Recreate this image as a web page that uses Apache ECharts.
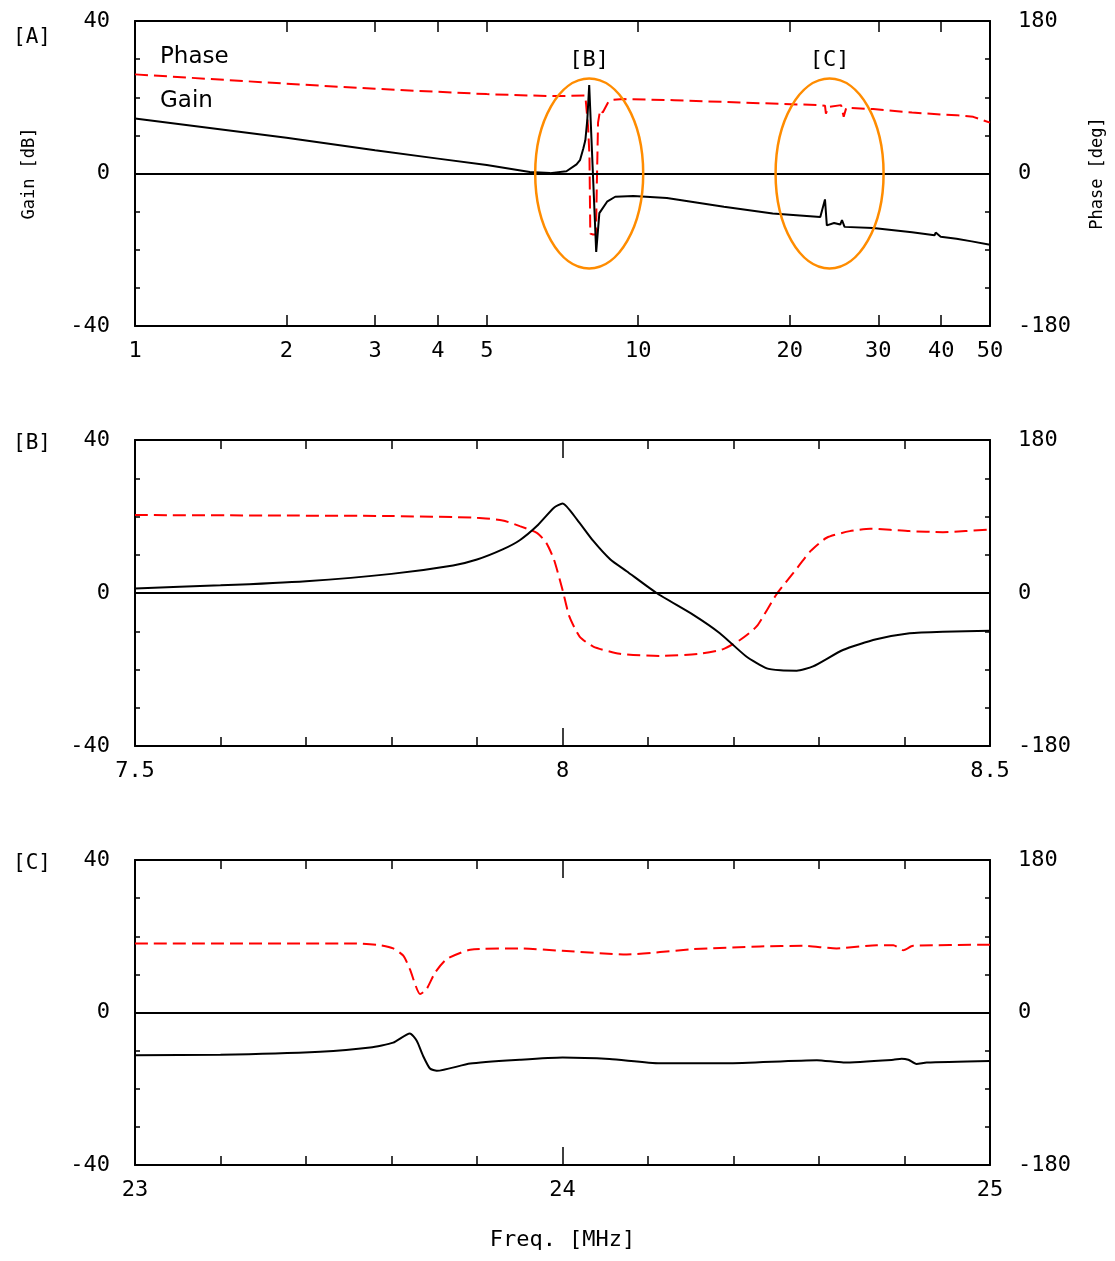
<!DOCTYPE html>
<html>
<head>
<meta charset="utf-8">
<script src="https://cdn.jsdelivr.net/npm/echarts@6/dist/echarts.min.js"></script>
<style>
    html, body { margin: 0; padding: 0; background: #fff; }
    #main { width: 1115px; height: 1261px; }
</style>
</head>
<body>
<div id="main"></div>
<script>
// [A] overview 1 - 50 MHz, log axis
var aGainFreq = [1, 2, 3, 4, 5, 6.09, 6.68, 7.2, 7.54, 7.66, 7.78, 7.85, 7.92, 7.99, 8.25, 8.37, 8.67, 9.0, 9.78, 11.4, 14.8, 18.5, 23.0, 23.5, 23.7, 24.5, 25.2, 25.4, 25.7, 29.3, 35, 38.8, 39.0, 39.9, 42.9, 46, 50];
var aGain = [14.4, 9.4, 6.1, 3.9, 2.2, 0.4, 0.1, 0.6, 2.4, 3.5, 6.6, 8.7, 14, 23.2, -20.6, -10.4, -7.4, -6.1, -5.9, -6.4, -8.7, -10.5, -11.4, -6.8, -13.6, -13.0, -13.4, -12.2, -14, -14.3, -15.4, -16.2, -15.5, -16.6, -17.1, -17.8, -18.7];
var aPhaseFreq = [1, 2, 3, 4, 5, 6.68, 7.85, 7.95, 8.0, 8.03, 8.13, 8.24, 8.27, 8.32, 8.4, 8.5, 8.72, 8.9, 9.36, 11.78, 15.9, 23.0, 23.5, 23.6, 23.9, 25.3, 25.6, 25.9, 29.3, 35, 39.9, 42.9, 46.3, 50];
var aPhase = [117, 106, 100, 96.4, 93.7, 91.3, 92, 55, 20, -71, -72, -72, -20, 60, 75, 72, 84.5, 87, 87.8, 86.6, 83.8, 80.7, 80, 70.8, 78.7, 80.7, 66.9, 77.5, 76, 72, 69.7, 68.9, 66.9, 60];

// [B] 7.5 - 8.5 MHz
var bGainFreq = [7.5, 7.6, 7.7, 7.8, 7.872, 7.9, 7.93, 7.95, 7.97, 7.99, 8.0, 8.017, 8.036, 8.056, 8.075, 8.11, 8.153, 8.184, 8.215, 8.239, 8.255, 8.274, 8.293, 8.328, 8.367, 8.406, 8.445, 8.5];
var bGain = [1.2, 2.0, 3.1, 5.0, 7.2, 8.75, 11.4, 13.8, 17.5, 22.3, 23.4, 19.2, 13.6, 8.75, 5.7, 0, -5.7, -10.5, -16.6, -19.7, -20.2, -20.3, -19.2, -14.9, -12.1, -10.5, -10.1, -9.9];
var bPhaseFreq = [7.5, 7.65, 7.8, 7.9, 7.93, 7.95, 7.97, 7.981, 7.99, 8.0, 8.008, 8.02, 8.036, 8.067, 8.114, 8.16, 8.188, 8.208, 8.227, 8.25, 8.27, 8.29, 8.309, 8.336, 8.36, 8.406, 8.445, 8.5];
var bPhase = [91.7, 91.2, 90.5, 88.5, 85.4, 78.7, 70.8, 59, 39.4, 3.9, -27.6, -51.2, -63, -71.6, -74, -71.6, -66, -55, -39.4, -2, 23.6, 49.2, 65, 72.8, 75.6, 72.8, 71.6, 74.8];

// [C] 23 - 25 MHz
var cGainFreq = [23.0, 23.2, 23.433, 23.55, 23.604, 23.643, 23.659, 23.674, 23.69, 23.706, 23.784, 23.9, 24.0, 24.11, 24.228, 24.384, 24.595, 24.657, 24.774, 24.793, 24.809, 24.828, 24.852, 25.0];
var cGain = [-11.2, -11.1, -10.3, -9.2, -7.9, -5.5, -7.4, -11.4, -14.7, -15.3, -13.4, -12.4, -11.8, -12.2, -13.3, -13.3, -12.5, -13.1, -12.4, -12.1, -12.4, -13.5, -13.1, -12.7];
var cPhaseFreq = [23.0, 23.51, 23.573, 23.604, 23.628, 23.643, 23.667, 23.682, 23.702, 23.729, 23.784, 23.9, 24.0, 24.15, 24.306, 24.462, 24.563, 24.641, 24.735, 24.774, 24.797, 24.82, 25.0];
var cPhase = [81.5, 81.5, 79.5, 75.6, 66.9, 51.2, 21.7, 27.6, 47.2, 63, 74, 75.6, 72.8, 68.5, 74.8, 78, 78.7, 75.6, 79.5, 79.5, 73.6, 78.7, 80];

var aTicks = [1, 2, 3, 4, 5, 10, 20, 30, 40, 50];
var gainLabels = [-40, 0, 40];
var phaseLabels = [-180, 0, 180];

var FONT = 'DejaVu Sans Mono';
var chart = echarts.init(document.getElementById('main'));

function pairs(xs, ys) {
    return xs.map(function (x, i) { return [x, ys[i]]; });
}

var grids = [
    {left: 135, top: 21, width: 855, height: 305},
    {left: 135, top: 440, width: 855, height: 306},
    {left: 135, top: 860, width: 855, height: 305}
].map(function (g) {
    return Object.assign({containLabel: false, outerBoundsMode: 'none'}, g);
});

var axisLine = {show: true, onZero: false, lineStyle: {color: '#000', width: 2}};
var tickStyle = {color: '#000', width: 1.5};
var labelStyle = {color: '#000', fontFamily: FONT, fontSize: 22};

var xAxes = [];
var yAxes = [];
var series = [];

function addPanel(i, cfg) {
    var base = {
        gridIndex: i,
        type: cfg.type,
        min: cfg.min,
        max: cfg.max,
        axisLine: axisLine,
        splitLine: {show: false}
    };
    var tick = {show: true, inside: true, length: cfg.tickLen, lineStyle: tickStyle};
    var minor = {show: !!cfg.minor, splitNumber: cfg.minor || 5, length: 9, lineStyle: tickStyle};
    if (cfg.interval) base.interval = cfg.interval;
    if (cfg.custom) tick.customValues = cfg.custom;

    var label = Object.assign({margin: 14}, labelStyle);
    if (cfg.custom) label.customValues = cfg.custom;

    var bottom = Object.assign({}, base, {
        position: 'bottom', axisTick: tick, minorTick: minor, axisLabel: label
    });
    if (cfg.xName) {
        bottom.name = cfg.xName;
        bottom.nameLocation = 'middle';
        bottom.nameGap = 64;
        bottom.nameTextStyle = {color: '#000', fontFamily: FONT, fontSize: 22};
    }
    var top = Object.assign({}, base, {
        position: 'top', axisTick: tick, minorTick: minor, axisLabel: {show: false}
    });
    var xb = xAxes.length;
    xAxes.push(bottom, top);

    var gainAxis = {
        gridIndex: i, type: 'value', position: 'left',
        min: -40, max: 40, interval: 10,
        axisLine: axisLine, splitLine: {show: false},
        axisTick: {show: true, inside: true, length: 5, lineStyle: tickStyle},
        axisLabel: Object.assign({
            margin: 25,
            formatter: function (v) { return gainLabels.indexOf(v) >= 0 ? String(v) : ''; }
        }, labelStyle)
    };
    var phaseAxis = {
        gridIndex: i, type: 'value', position: 'right',
        min: -180, max: 180, interval: 45,
        axisLine: axisLine, splitLine: {show: false},
        axisTick: {show: true, inside: true, length: 5, lineStyle: tickStyle},
        axisLabel: Object.assign({
            margin: 28,
            formatter: function (v) { return phaseLabels.indexOf(v) >= 0 ? String(v) : ''; }
        }, labelStyle)
    };
    if (cfg.yNames) {
        gainAxis.name = 'Gain [dB]';
        gainAxis.nameLocation = 'middle';
        gainAxis.nameRotate = 90;
        gainAxis.nameGap = 97;
        gainAxis.nameTextStyle = {color: '#000', fontFamily: FONT, fontSize: 17};
        phaseAxis.name = 'Phase [deg]';
        phaseAxis.nameLocation = 'middle';
        phaseAxis.nameRotate = 90;
        phaseAxis.nameGap = 99;
        phaseAxis.nameTextStyle = {color: '#000', fontFamily: FONT, fontSize: 17};
    }
    var yb = yAxes.length;
    yAxes.push(gainAxis, phaseAxis);

    series.push({
        type: 'line', name: 'Phase',
        xAxisIndex: xb, yAxisIndex: yb + 1,
        data: pairs(cfg.phaseFreq, cfg.phase),
        showSymbol: false, smooth: cfg.smooth,
        lineStyle: {color: '#ff0000', width: 2, type: [13, 6]}
    });
    series.push({
        type: 'line', name: 'Gain',
        xAxisIndex: xb, yAxisIndex: yb,
        data: pairs(cfg.gainFreq, cfg.gain),
        showSymbol: false, smooth: cfg.smooth,
        lineStyle: {color: '#000', width: 2},
        markLine: {
            silent: true, symbol: 'none', label: {show: false},
            lineStyle: {color: '#000', width: 2, type: 'solid'},
            data: [{yAxis: 0}]
        }
    });
}

addPanel(0, {
    type: 'log', min: 1, max: 50, custom: aTicks, tickLen: 11,
    gainFreq: aGainFreq, gain: aGain, phaseFreq: aPhaseFreq, phase: aPhase,
    smooth: false, yNames: true
});
addPanel(1, {
    type: 'value', min: 7.5, max: 8.5, interval: 0.5, minor: 5, tickLen: 18,
    gainFreq: bGainFreq, gain: bGain, phaseFreq: bPhaseFreq, phase: bPhase,
    smooth: 0.2
});
addPanel(2, {
    type: 'value', min: 23, max: 25, interval: 1, minor: 5, tickLen: 18,
    gainFreq: cGainFreq, gain: cGain, phaseFreq: cPhaseFreq, phase: cPhase,
    smooth: 0.2, xName: 'Freq. [MHz]'
});

var panelTitle = {color: '#000', fontFamily: FONT, fontSize: 21, fontWeight: 'normal'};

var option = {
    animation: false,
    backgroundColor: '#fff',
    title: [
        {text: '[A]', left: 8, top: 22, textStyle: panelTitle},
        {text: '[B]', left: 8, top: 428, textStyle: panelTitle},
        {text: '[C]', left: 8, top: 848, textStyle: panelTitle}
    ],
    grid: grids,
    xAxis: xAxes,
    yAxis: yAxes,
    series: series
};

chart.setOption(option);

// orange ellipses and their labels, placed from data coordinates on panel [A]
var ellB = chart.convertToPixel({seriesIndex: 1}, [7.99, 0]);
var ellC = chart.convertToPixel({seriesIndex: 1}, [24.0, 0]);
var ellStyle = {fill: 'none', stroke: '#ff8c00', lineWidth: 2.5};
var noteStyle = {fill: '#000', font: '22px "DejaVu Sans Mono"', textAlign: 'center', textVerticalAlign: 'middle'};

chart.setOption({
    graphic: [
        {type: 'ellipse', shape: {cx: ellB[0], cy: ellB[1], rx: 54, ry: 95}, style: ellStyle, z: 10},
        {type: 'ellipse', shape: {cx: ellC[0], cy: ellC[1], rx: 54, ry: 95}, style: ellStyle, z: 10},
        {type: 'text', x: ellB[0], y: ellB[1] - 113, style: Object.assign({text: '[B]'}, noteStyle)},
        {type: 'text', x: ellC[0], y: ellC[1] - 113, style: Object.assign({text: '[C]'}, noteStyle)},
        {type: 'text', left: 160, top: 46, style: {text: 'Phase', fill: '#000', font: '23px "DejaVu Sans"'}},
        {type: 'text', left: 160, top: 90, style: {text: 'Gain', fill: '#000', font: '23px "DejaVu Sans"'}}
    ]
});
</script>
</body>
</html>
